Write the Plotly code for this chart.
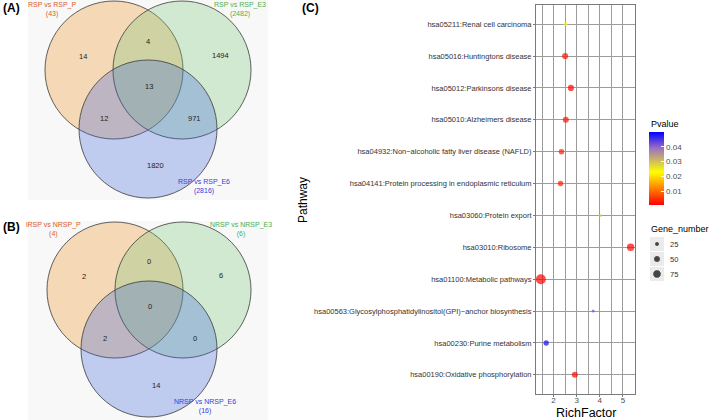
import plotly.graph_objects as go
import math

# ---------------- data ----------------
pathways = [
    "hsa05211:Renal cell carcinoma",
    "hsa05016:Huntingtons disease",
    "hsa05012:Parkinsons disease",
    "hsa05010:Alzheimers disease",
    "hsa04932:Non−alcoholic fatty liver disease (NAFLD)",
    "hsa04141:Protein processing in endoplasmic reticulum",
    "hsa03060:Protein export",
    "hsa03010:Ribosome",
    "hsa01100:Metabolic pathways",
    "hsa00563:Glycosylphosphatidylinositol(GPI)−anchor biosynthesis",
    "hsa00230:Purine metabolism",
    "hsa00190:Oxidative phosphorylation",
]
rich_factor = [2.52, 2.50, 2.75, 2.53, 2.34, 2.30, 4.03, 5.33, 1.45, 3.71, 1.68, 2.92]
pvalue = [0.022, 0.002, 0.001, 0.002, 0.003, 0.003, 0.028, 0.0006, 0.0006, 0.042, 0.049, 0.001]
gene_number = [14, 38, 38, 36, 30, 30, 4, 55, 100, 5, 28, 36]
size_legend_values = [25, 50, 75]
pvalue_ticks = [0.01, 0.02, 0.03, 0.04]
richfactor_ticks = [2, 3, 4, 5]

venn_regions = ["P", "P&E3", "E3", "P&E3&E6", "P&E6", "E3&E6", "E6"]
venn_a_values = [14, 4, 1494, 13, 12, 971, 1820]
venn_b_values = [2, 0, 6, 0, 2, 0, 14]
venn_a_sets = ["RSP vs RSP_P", "RSP vs RSP_E3", "RSP vs RSP_E6"]
venn_a_totals = [43, 2482, 2816]
venn_b_sets = ["lRSP vs NRSP_P", "NRSP vs NRSP_E3", "NRSP vs NRSP_E6"]
venn_b_totals = [4, 6, 16]

FONT = "Liberation Sans, Arial, Helvetica, sans-serif"


def dot_size(n):
    return max(3.0, math.sqrt(n))


fig = go.Figure()

# ---------------- dot plot (C) ----------------
fig.add_trace(go.Scatter(
    x=rich_factor, y=pathways, mode="markers",
    marker=dict(
        size=[dot_size(g) for g in gene_number],
        color=pvalue, cmin=0.0005, cmax=0.0502,
        colorscale=[[0, "#ff0000"], [0.45, "#ffff00"], [0.78, "#9b6fc4"], [1, "#0000ff"]],
        line=dict(width=0),
        colorbar=dict(
            x=649 / 709, xanchor="left", xpad=0, ypad=0,
            y=1 - 168.5 / 420, yanchor="middle",
            len=73 / 420, lenmode="fraction", thickness=15,
            outlinewidth=0, ticks="inside", ticklen=3, tickcolor="white",
            tickvals=pvalue_ticks, ticktext=[f"{v:.2f}" for v in pvalue_ticks],
            tickfont=dict(size=8, color="#4d4d4d", family=FONT),
            title=dict(text="", side="top"),
        ),
    ),
    xaxis="x", yaxis="y", showlegend=False, hoverinfo="skip",
))

# ---------------- pixel-space axis for venn + legend ----------------
W, H = 709, 420

# Gene_number legend keys
key_x = 657
key_ys = [244, 259, 274]
fig.add_trace(go.Scatter(
    x=[key_x] * len(size_legend_values), y=key_ys, mode="markers",
    marker=dict(size=[dot_size(v) for v in size_legend_values], color="black"),
    xaxis="x2", yaxis="y2", showlegend=False, hoverinfo="skip",
))

shapes = []
annotations = []

# venn panel backgrounds
for (y0, y1) in [(0, 200), (221, 420)]:
    shapes.append(dict(type="rect", xref="x2", yref="y2", x0=28, x1=268, y0=y0, y1=y1,
                       fillcolor="#f8f8f8", line=dict(width=0), layer="below"))

# legend key backgrounds
for ky in key_ys:
    shapes.append(dict(type="rect", xref="x2", yref="y2", x0=650, x1=664, y0=ky - 7, y1=ky + 7,
                       fillcolor="#ebebeb", line=dict(width=0), layer="below"))

fills = ["rgba(240,160,60,0.35)", "rgba(120,200,120,0.30)", "rgba(60,100,220,0.30)"]
label_colors = ["#d9602b", "#4fb04f", "#3b3bdc"]
region_offsets = [(-31, -14), (34, -29), (106, -15), (35, 16), (-10, 48), (80, 48), (41, 95)]
set_label_offsets = [(-62, -61), (126, -61), (90, 116)]


def add_venn(ox, oy, r, values, sets, totals):
    centers = [(ox, oy), (ox + 68, oy), (ox + 34, oy + 59)]
    for (cx, cy), fc in zip(centers, fills):
        shapes.append(dict(type="circle", xref="x2", yref="y2",
                           x0=cx - r, x1=cx + r, y0=cy - r, y1=cy + r,
                           fillcolor=fc, line=dict(color="#3a3a3a", width=0.8), layer="above"))
    for (dx, dy), v in zip(region_offsets, values):
        annotations.append(dict(xref="x2", yref="y2", x=ox + dx, y=oy + dy, text=str(v),
                                showarrow=False, font=dict(size=7.5, color="#222", family=FONT)))
    for (dx, dy), s, t, c in zip(set_label_offsets, sets, totals, label_colors):
        annotations.append(dict(xref="x2", yref="y2", x=ox + dx, y=oy + dy,
                                text=f"{s}<br>({t})", showarrow=False, align="center",
                                font=dict(size=7, color=c, family=FONT)))


add_venn(114, 70, 69, venn_a_values, venn_a_sets, venn_a_totals)
add_venn(115, 290, 68, venn_b_values, venn_b_sets, venn_b_totals)

# panel labels
for txt, x, y in [("(A)", 11, 8), ("(B)", 11, 227), ("(C)", 310, 8)]:
    annotations.append(dict(xref="x2", yref="y2", x=x, y=y, text=f"<b>{txt}</b>", showarrow=False,
                            font=dict(size=12, color="black", family=FONT)))

# axis titles and legend titles
annotations += [
    dict(xref="x2", yref="y2", x=586, y=413, text="RichFactor", showarrow=False,
         font=dict(size=12.5, color="black", family=FONT)),
    dict(xref="x2", yref="y2", x=303, y=200, text="Pathway", showarrow=False, textangle=-90,
         font=dict(size=12, color="black", family=FONT)),
    dict(xref="x2", yref="y2", x=649, y=124, text="Pvalue", showarrow=False, xanchor="left",
         font=dict(size=9, color="black", family=FONT)),
    dict(xref="x2", yref="y2", x=649, y=229, text="Gene_number", showarrow=False, xanchor="left",
         font=dict(size=9, color="black", family=FONT)),
]
for v, ky in zip(size_legend_values, key_ys):
    annotations.append(dict(xref="x2", yref="y2", x=668, y=ky, text=str(v), showarrow=False,
                            xanchor="left", font=dict(size=7.5, color="#333", family=FONT)))

fig.update_layout(
    width=W, height=H, margin=dict(l=0, r=0, t=0, b=0),
    paper_bgcolor="white", plot_bgcolor="rgba(0,0,0,0)",
    font=dict(family=FONT),
    xaxis=dict(domain=[536 / W, 635 / W], range=[1.24, 5.52], tickvals=richfactor_ticks,
               showgrid=True, gridcolor="#9c9c9c", gridwidth=1,
               minor=dict(dtick=0.5, tick0=0, showgrid=True, gridcolor="#9c9c9c", gridwidth=1),
               showline=True, mirror=True, linecolor="#7a7a7a", linewidth=1,
               ticks="outside", ticklen=2, tickcolor="#7a7a7a", ticklabelstandoff=-4,
               tickfont=dict(size=8, color="#4d4d4d"), zeroline=False, anchor="y"),
    yaxis=dict(domain=[(H - 394) / H, (H - 5) / H], type="category",
               categoryorder="array", categoryarray=pathways[::-1], range=[-0.6, 11.6],
               showgrid=True, gridcolor="#9c9c9c", gridwidth=1,
               showline=True, mirror=True, linecolor="#7a7a7a", linewidth=1,
               ticks="outside", ticklen=2, tickcolor="#7a7a7a",
               tickfont=dict(size=7.5, color="#333"), zeroline=False, anchor="x"),
    xaxis2=dict(domain=[0, 1], range=[0, W], visible=False, fixedrange=True, anchor="y2"),
    yaxis2=dict(domain=[0, 1], range=[H, 0], visible=False, fixedrange=True, anchor="x2"),
    shapes=shapes, annotations=annotations,
)

fig.write_html("out.html", config={"displayModeBar": False},
               post_script="document.body.style.margin='0';document.body.style.padding='0';")
